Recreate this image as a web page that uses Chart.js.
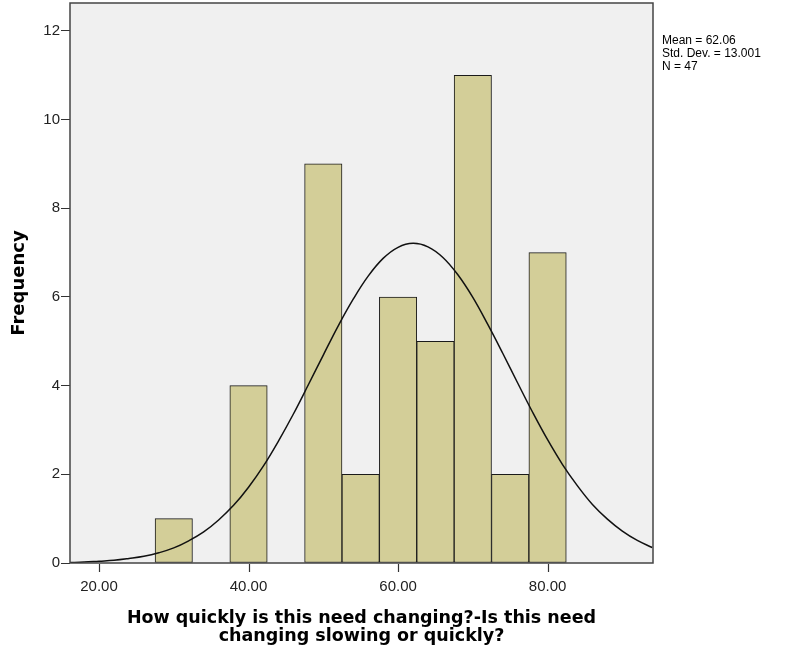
<!DOCTYPE html>
<html>
<head>
<meta charset="utf-8">
<script src="https://cdn.jsdelivr.net/npm/chart.js@4/dist/chart.umd.min.js"></script>
<style>
  html, body { margin: 0; padding: 0; background: #fff; }
  #wrap { position: relative; width: 788px; height: 649px; }
  #stats { position: absolute; left: 662px; top: 34px; font: 12px "Liberation Sans", Arial, sans-serif; line-height: 13px; color: #000; white-space: pre; }
</style>
</head>
<body>
<div id="wrap">
  <canvas id="c" width="788" height="649"></canvas>
  <div id="stats">Mean = 62.06
Std. Dev. = 13.001
N = 47</div>
</div>
<script>
// Histogram bins (bin centers, width 5) and frequencies
const binCenters = [30, 40, 50, 55, 60, 65, 70, 75, 80];
const frequencies = [1, 4, 9, 2, 6, 5, 11, 2, 7];

// Normal curve (x, height)
const curveX = [16, 18, 20, 22, 24, 26, 28, 30, 32, 34, 36, 38, 40, 42, 44, 46, 48, 50, 52, 54, 56, 58, 60, 62, 64, 66, 68, 70, 72, 74, 76, 78, 80, 82, 84, 86, 88, 90, 92, 94];
const curveY = [0.01, 0.02, 0.04, 0.06, 0.10, 0.15, 0.23, 0.34, 0.50, 0.70, 0.97, 1.30, 1.71, 2.19, 2.75, 3.36, 4.02, 4.69, 5.35, 5.95, 6.47, 6.87, 7.12, 7.21, 7.13, 6.89, 6.50, 5.99, 5.38, 4.73, 4.06, 3.40, 2.78, 2.22, 1.74, 1.32, 0.99, 0.72, 0.51, 0.35];

const xTicks = [20, 40, 60, 80];
const yTicks = [0, 2, 4, 6, 8, 10, 12];

const xTitle = ['How quickly is this need changing?-Is this need', 'changing slowing or quickly?'];
const yTitle = 'Frequency';

const FONT = '"Liberation Sans", Arial, sans-serif';
const TITLE_FONT = '"DejaVu Sans", "Liberation Sans", Arial, sans-serif';

const framePlugin = {
  id: 'frame',
  beforeDatasetsDraw(chart) {
    const a = chart.chartArea, ctx = chart.ctx;
    ctx.save();
    ctx.fillStyle = '#f0f0f0';
    ctx.fillRect(a.left, a.top, a.right - a.left, a.bottom - a.top);
    ctx.restore();
  },
  afterDatasetsDraw(chart) {
    const a = chart.chartArea, ctx = chart.ctx;
    ctx.save();
    ctx.strokeStyle = '#444';
    ctx.lineWidth = 1.5;
    ctx.strokeRect(a.left, a.top, a.right - a.left, a.bottom - a.top);
    ctx.restore();
  },
  afterDraw(chart) {
    // x-axis tick marks below the frame, placed by the x scale
    const a = chart.chartArea, ctx = chart.ctx, xs = chart.scales.x;
    ctx.save();
    ctx.strokeStyle = '#333';
    ctx.lineWidth = 1.2;
    for (const v of xTicks) {
      const px = Math.round(xs.getPixelForValue(v)) + 0.5;
      ctx.beginPath();
      ctx.moveTo(px, a.bottom + 1);
      ctx.lineTo(px, a.bottom + 9);
      ctx.stroke();
    }
    ctx.restore();
  }
};

new Chart(document.getElementById('c'), {
  type: 'bar',
  data: {
    datasets: [
      {
        type: 'line',
        data: curveX.map((x, i) => ({ x: x, y: curveY[i] })),
        borderColor: '#111',
        borderWidth: 1.5,
        pointRadius: 0,
        tension: 0.4,
        fill: false,
        order: 0
      },
      {
        type: 'bar',
        data: binCenters.map((x, i) => ({ x: x, y: frequencies[i] })),
        backgroundColor: 'rgb(211,206,152)',
        borderColor: '#1a1a1a',
        borderWidth: 1,
        borderSkipped: false,
        barPercentage: 1,
        categoryPercentage: 1,
        order: 1
      }
    ]
  },
  options: {
    responsive: false,
    animation: false,
    layout: { padding: { top: 3, right: 135, left: 0, bottom: 0 } },
    plugins: { legend: { display: false }, tooltip: { enabled: false } },
    scales: {
      x: {
        type: 'linear',
        min: 16.12,
        max: 94.1,
        offset: false,
        afterBuildTicks: s => { s.ticks = xTicks.map(v => ({ value: v })); },
        afterFit: s => { s.height = 86; s.paddingLeft = 0; s.paddingRight = 0; },
        grid: { display: false, offset: false, drawOnChartArea: false, tickLength: 8 },
        border: { display: false },
        ticks: { color: '#222', font: { family: FONT, size: 15 }, padding: 7, maxRotation: 0, callback: v => v.toFixed(2) },
        title: { display: true, text: xTitle, color: '#000', font: { family: TITLE_FONT, size: 17.5, weight: 'bold', lineHeight: 1.03 }, padding: { top: 0 } }
      },
      y: {
        min: 0,
        max: 12.63,
        afterBuildTicks: s => { s.ticks = yTicks.map(v => ({ value: v })); },
        afterFit: s => { s.width = 70; s.paddingTop = 0; s.paddingBottom = 0; },
        grid: { drawOnChartArea: false, drawTicks: true, tickLength: 9, color: '#333', lineWidth: 1 },
        border: { display: false },
        ticks: { color: '#222', font: { family: FONT, size: 15 }, padding: 1 },
        title: { display: true, text: yTitle, color: '#000', font: { family: TITLE_FONT, size: 18, weight: 'bold' }, padding: { top: 9 } }
      }
    }
  },
  plugins: [framePlugin]
});
</script>
</body>
</html>
